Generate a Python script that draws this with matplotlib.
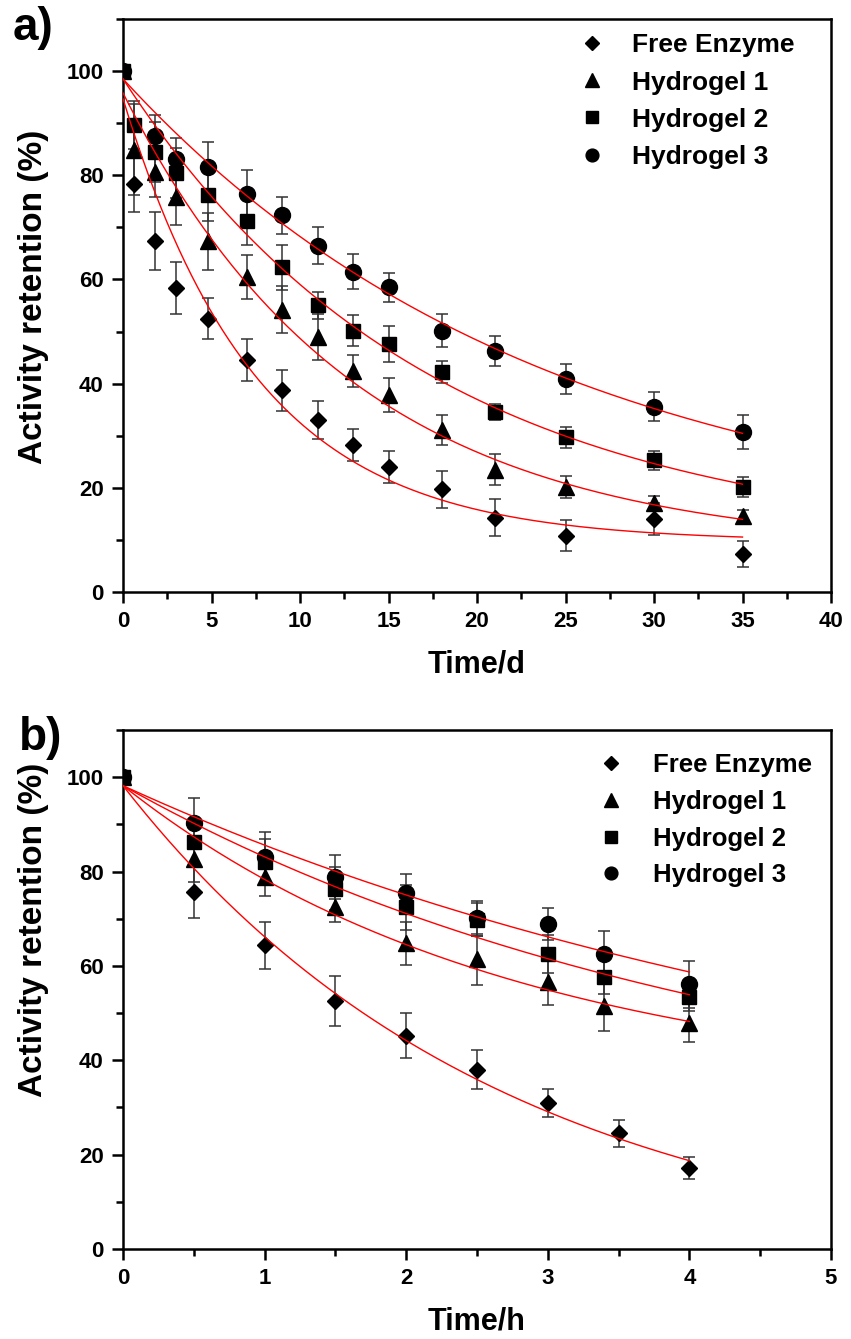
import numpy as np
import matplotlib
matplotlib.use("Agg")
import matplotlib.pyplot as plt
from matplotlib.ticker import MultipleLocator

plt.rcParams['font.family'] = ['Liberation Sans', 'DejaVu Sans']
plt.rcParams['font.weight'] = 'bold'

# ---------------- data: panel a (storage, days) ----------------
days_a = [0, 0.6, 1.8, 3, 4.8, 7, 9, 11, 13, 15, 18, 21, 25, 30, 35]
free_a = [100, 78.3, 67.4, 58.3, 52.5, 44.5, 38.7, 33.0, 28.2, 24.0, 19.7, 14.3, 10.8, 14.0, 7.3]
free_a_err = [0, 5.3, 5.5, 5.0, 4.0, 4.0, 4.0, 3.6, 3.1, 3.0, 3.5, 3.5, 3.0, 3.1, 2.5]
hyd1_a = [100, 84.9, 80.6, 75.8, 67.3, 60.5, 54.2, 49.0, 42.4, 37.8, 31.1, 23.5, 20.2, 17.0, 14.6]
hyd1_a_err = [0, 8.7, 4.8, 5.4, 5.4, 4.2, 4.5, 4.4, 3.1, 3.2, 2.9, 3.0, 2.1, 1.5, 1.2]
hyd2_a = [100, 89.7, 84.5, 80.5, 76.2, 71.3, 62.3, 55.0, 50.2, 47.6, 42.3, 34.5, 29.7, 25.3, 20.1]
hyd2_a_err = [0, 4.6, 5.7, 4.8, 5.0, 4.6, 4.4, 2.5, 2.9, 3.5, 2.1, 1.5, 2.0, 1.8, 1.9]
hyd3_a = [100, np.nan, 87.6, 83.2, 81.6, 76.4, 72.3, 66.5, 61.5, 58.5, 50.2, 46.2, 40.9, 35.6, 30.7]
hyd3_a_err = [0, np.nan, 3.9, 3.9, 4.8, 4.6, 3.5, 3.5, 3.4, 2.8, 3.2, 2.9, 2.9, 2.7, 3.2]

# exponential decay fits: y0, A, t  (y = y0 + A*exp(-x/t))
fit_a = {
    "Free Enzyme": (9.7, 85.0, 7.6),
    "Hydrogel 1": (8.0, 87.8, 13.0),
    "Hydrogel 2": (9.0, 89.5, 17.2),
    "Hydrogel 3": (10.0, 88.5, 23.9),
}

# ---------------- data: panel b (hours) ----------------
hours_free_b = [0, 0.5, 1, 1.5, 2, 2.5, 3, 3.5, 4]
hours_hyd_b = [0, 0.5, 1, 1.5, 2, 2.5, 3, 3.4, 4]
free_b = [100, 75.6, 64.4, 52.6, 45.2, 38.0, 31.0, 24.5, 17.2]
free_b_err = [0, 5.5, 5.0, 5.3, 4.8, 4.1, 3.0, 2.9, 2.4]
hyd1_b = [100, 82.6, 78.8, 72.4, 64.8, 61.4, 56.5, 51.6, 47.9]
hyd1_b_err = [0, 4.8, 4.0, 3.0, 4.6, 5.4, 4.7, 5.5, 4.0]
hyd2_b = [100, 86.3, 82.1, 76.4, 72.4, 69.8, 62.5, 57.7, 53.5]
hyd2_b_err = [0, 4.9, 4.9, 4.5, 4.7, 3.5, 4.1, 3.6, 3.1]
hyd3_b = [100, 90.2, 83.1, 78.9, 75.4, 70.1, 68.9, 62.5, 56.1]
hyd3_b_err = [0, 5.4, 5.3, 4.7, 4.1, 3.7, 3.4, 5.0, 5.0]

fit_b = {
    "Free Enzyme": (-4.0, 102.2, 2.66),
    "Hydrogel 1": (33.0, 65.2, 2.75),
    "Hydrogel 2": (24.0, 74.2, 4.4),
    "Hydrogel 3": (20.0, 78.2, 5.69),
}

labels = ["Free Enzyme", "Hydrogel 1", "Hydrogel 2", "Hydrogel 3"]
markers = {"Free Enzyme": ("D", 8.5), "Hydrogel 1": ("^", 12),
           "Hydrogel 2": ("s", 10), "Hydrogel 3": ("o", 11.5)}


def draw_panel(ax, xs, ys, errs, fits, xfit_max):
    handles = []
    for lab, x, y, e in zip(labels, xs, ys, errs):
        m, ms = markers[lab]
        ax.errorbar(x, y, yerr=e, fmt='none', ecolor='#333333', elinewidth=1.1,
                    capsize=4, capthick=1.1, zorder=2)
        h, = ax.plot(x, y, linestyle='none', marker=m, ms=ms, color='black',
                     label=lab, zorder=3)
        handles.append(h)
        y0, A, t = fits[lab]
        xx = np.linspace(0, xfit_max, 200)
        ax.plot(xx, y0 + A * np.exp(-xx / t), color='red', lw=1.0, zorder=4)
    ax.set_ylim(0, 110)
    ax.yaxis.set_major_locator(MultipleLocator(20))
    ax.yaxis.set_minor_locator(MultipleLocator(10))
    for s in ax.spines.values():
        s.set_linewidth(1.8)
    ax.tick_params(which='major', direction='out', length=8, width=1.8,
                   labelsize=16, pad=6, top=False, right=False)
    ax.tick_params(which='minor', direction='out', length=5, width=1.8,
                   top=False, right=False)
    for lbl in ax.get_xticklabels() + ax.get_yticklabels():
        lbl.set_fontweight('bold')
    ax.set_ylabel("Activity retention (%)", fontsize=24, fontweight='bold')
    return handles


fig = plt.figure(figsize=(8.51, 13.39), dpi=100)
ax_a = fig.add_axes([123 / 851, 1 - 592 / 1339, 708 / 851, 573 / 1339])
ax_b = fig.add_axes([123 / 851, 1 - 1249 / 1339, 708 / 851, 519 / 1339])

# panel a
h_a = draw_panel(ax_a, [days_a] * 4, [free_a, hyd1_a, hyd2_a, hyd3_a],
                 [free_a_err, hyd1_a_err, hyd2_a_err, hyd3_a_err], fit_a, 35)
ax_a.set_xlim(0, 40)
ax_a.xaxis.set_major_locator(MultipleLocator(5))
ax_a.xaxis.set_minor_locator(MultipleLocator(2.5))
ax_a.set_xlabel("Time/d", fontsize=22, fontweight='bold')
ax_a.xaxis.set_label_coords(0.5, -0.10)
ax_a.yaxis.set_label_coords(-0.105, 0.515)
ax_a.legend(handles=h_a, loc='upper left', bbox_to_anchor=(0.644, 0.975),
            frameon=False, handlelength=1.0, handletextpad=1.0,
            labelspacing=0.5, borderpad=0, borderaxespad=0, numpoints=1,
            markerscale=0.8, prop={'weight': 'bold', 'size': 19})

# panel b
h_b = draw_panel(ax_b, [hours_free_b, hours_hyd_b, hours_hyd_b, hours_hyd_b],
                 [free_b, hyd1_b, hyd2_b, hyd3_b],
                 [free_b_err, hyd1_b_err, hyd2_b_err, hyd3_b_err], fit_b, 4)
ax_b.set_xlim(0, 5)
ax_b.xaxis.set_major_locator(MultipleLocator(1))
ax_b.xaxis.set_minor_locator(MultipleLocator(0.5))
ax_b.set_xlabel("Time/h", fontsize=22, fontweight='bold')
ax_b.xaxis.set_label_coords(0.5, -0.11)
ax_b.yaxis.set_label_coords(-0.105, 0.615)
ax_b.legend(handles=h_b, loc='upper left', bbox_to_anchor=(0.671, 0.956),
            frameon=False, handlelength=1.0, handletextpad=1.15,
            labelspacing=0.5, borderpad=0, borderaxespad=0, numpoints=1,
            markerscale=0.8, prop={'weight': 'bold', 'size': 18.5})

fig.text(33 / 851, 1 - 28 / 1339, "a)", fontsize=33, fontweight='bold',
         ha='center', va='center')
fig.text(41 / 851, 1 - 738 / 1339, "b)", fontsize=33, fontweight='bold',
         ha='center', va='center')

fig.savefig("out.png", dpi=100)
